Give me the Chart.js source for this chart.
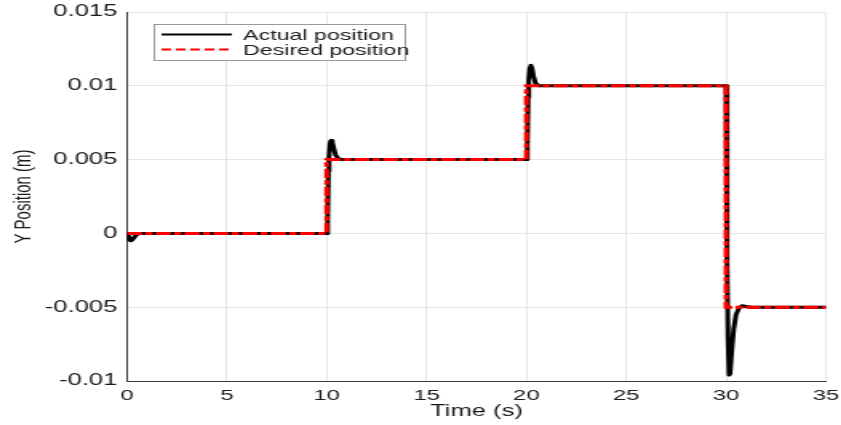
<!DOCTYPE html>
<html lang="en">
<head>
    <meta charset="UTF-8">
    <title>Y Position Step Response</title>
    <script src="https://cdn.jsdelivr.net/npm/chart.js"></script>
    <style>
        html, body {
            margin: 0;
            padding: 0;
            background: #ffffff;
            overflow: hidden;
        }
        #wrap {
            width: 841px;
            height: 425px;
        }
        /* figure is drawn narrow and stretched sideways, like the exported plot */
        #posChart {
            display: block;
            transform: scaleX(1.599);
            transform-origin: 0 0;
        }
    </style>
</head>
<body>
    <div id="wrap">
        <canvas id="posChart" width="526" height="425"></canvas>
    </div>

    <script>
        // desired (reference) trajectory: steps at 10, 20 and 30 s
        const desiredTime = [0, 10, 10, 20, 20, 30, 30, 35];
        const desiredPos  = [0, 0, 0.005, 0.005, 0.01, 0.01, -0.005, -0.005];

        // measured trajectory
        const actualTime = [0, 0.05, 0.1, 0.18, 0.25, 0.35, 0.45, 0.6,
            10, 10.05, 10.09, 10.12, 10.17, 10.22, 10.28, 10.35, 10.45, 10.6, 10.8,
            20, 20.05, 20.09, 20.12, 20.17, 20.22, 20.28, 20.35, 20.45, 20.6,
            30, 30.03, 30.07, 30.1, 30.15, 30.2, 30.28, 30.38, 30.5, 30.65, 30.8, 31, 31.3, 35];
        const actualPos = [0, -0.0002, -0.0004, -0.0005, -0.00045, -0.0003, -0.00012, 0,
            0, 0.001, 0.0042, 0.0052, 0.0061, 0.0063, 0.0062, 0.0058, 0.0053, 0.00505, 0.005,
            0.005, 0.006, 0.0092, 0.0104, 0.0112, 0.0114, 0.0112, 0.0107, 0.0102, 0.01,
            0.01, 0.005, -0.002, -0.0072, -0.0096, -0.0095, -0.008, -0.0065, -0.0055, -0.00505, -0.0049, -0.00495, -0.005, -0.005];

        const xTicks = [0, 5, 10, 15, 20, 25, 30, 35];
        const yTicks = [-0.01, -0.005, 0, 0.005, 0.01, 0.015];
        const yTickLabels = ['-0.01', '-0.005', '0', '0.005', '0.01', '0.015'];

        const FONT = '"Liberation Sans", Arial, sans-serif';
        const legendDash = [6, 3];

        const toPoints = (xs, ys) => xs.map((x, i) => ({ x: x, y: ys[i] }));

        // legend box in the upper left corner of the plot
        const insideLegend = {
            id: 'insideLegend',
            afterDraw(chart) {
                const ctx = chart.ctx;
                const x = 96, y = 24, w = 157, h = 36;
                ctx.save();
                ctx.fillStyle = '#ffffff';
                ctx.fillRect(x, y, w, h);
                ctx.strokeStyle = '#9a9a9a';
                ctx.lineWidth = 1;
                ctx.strokeRect(x + 0.5, y + 0.5, w, h);

                const rows = [chart.data.datasets[1], chart.data.datasets[0]];
                rows.forEach((ds, i) => {
                    const ry = y + 10.5 + i * 15;
                    ctx.beginPath();
                    ctx.setLineDash(ds.borderDash && ds.borderDash.length ? legendDash : []);
                    ctx.strokeStyle = ds.borderColor;
                    ctx.lineWidth = 2;
                    ctx.moveTo(101, ry);
                    ctx.lineTo(145, ry);
                    ctx.stroke();
                    ctx.setLineDash([]);
                    ctx.fillStyle = '#1a1a1a';
                    ctx.font = '14.5px ' + FONT;
                    ctx.textBaseline = 'middle';
                    ctx.textAlign = 'left';
                    ctx.fillText(ds.label, 152, ry + 1);
                });
                ctx.restore();
            }
        };

        const ctx = document.getElementById('posChart').getContext('2d');
        new Chart(ctx, {
            type: 'line',
            data: {
                datasets: [
                    {
                        label: 'Desired position',
                        data: toPoints(desiredTime, desiredPos),
                        borderColor: '#ff0000',
                        borderWidth: 3,
                        borderDash: [9.5, 2, 4.5, 2],
                        pointRadius: 0,
                        tension: 0,
                        order: 0
                    },
                    {
                        label: 'Actual position',
                        data: toPoints(actualTime, actualPos),
                        borderColor: '#000000',
                        borderWidth: 3,
                        borderJoinStyle: 'round',
                        borderCapStyle: 'round',
                        pointRadius: 0,
                        tension: 0,
                        order: 1
                    }
                ]
            },
            options: {
                responsive: false,
                animation: false,
                devicePixelRatio: 1,
                layout: { padding: { top: 12, right: 9.5, left: 0, bottom: 0 } },
                plugins: {
                    legend: { display: false },
                    tooltip: { enabled: false }
                },
                scales: {
                    x: {
                        type: 'linear',
                        min: 0,
                        max: 35,
                        afterBuildTicks: s => { s.ticks = xTicks.map(v => ({ value: v })); },
                        afterFit: s => {
                            s.height = 44;
                            s.paddingLeft = 0;
                            s.paddingRight = 0;
                        },
                        grid: { color: '#e6e6e6', drawTicks: false },
                        border: { color: '#3a3a3a', width: 1 },
                        ticks: {
                            color: '#1a1a1a',
                            padding: 6,
                            maxRotation: 0,
                            font: { family: FONT, size: 15 }
                        },
                        title: {
                            display: true,
                            text: 'Time (s)',
                            color: '#1a1a1a',
                            font: { family: FONT, size: 16 },
                            padding: { top: 0, bottom: 4 }
                        }
                    },
                    y: {
                        type: 'linear',
                        min: -0.01,
                        max: 0.015,
                        afterBuildTicks: s => { s.ticks = yTicks.map(v => ({ value: v })); },
                        afterFit: s => {
                            s.width = 79.4;
                            s.paddingTop = 0;
                            s.paddingBottom = 0;
                        },
                        grid: { color: '#e6e6e6', drawTicks: false },
                        border: { color: '#3a3a3a', width: 1 },
                        ticks: {
                            color: '#1a1a1a',
                            padding: 6,
                            font: { family: FONT, size: 16 },
                            callback: (v) => {
                                const i = yTicks.findIndex(t => Math.abs(t - v) < 1e-9);
                                return i >= 0 ? yTickLabels[i] : '';
                            }
                        },
                        title: {
                            display: true,
                            text: 'Y Position (m)',
                            color: '#1a1a1a',
                            font: { family: FONT, size: 15 },
                            padding: { top: 6, bottom: 0 }
                        }
                    }
                }
            },
            plugins: [insideLegend]
        });
    </script>
</body>
</html>
